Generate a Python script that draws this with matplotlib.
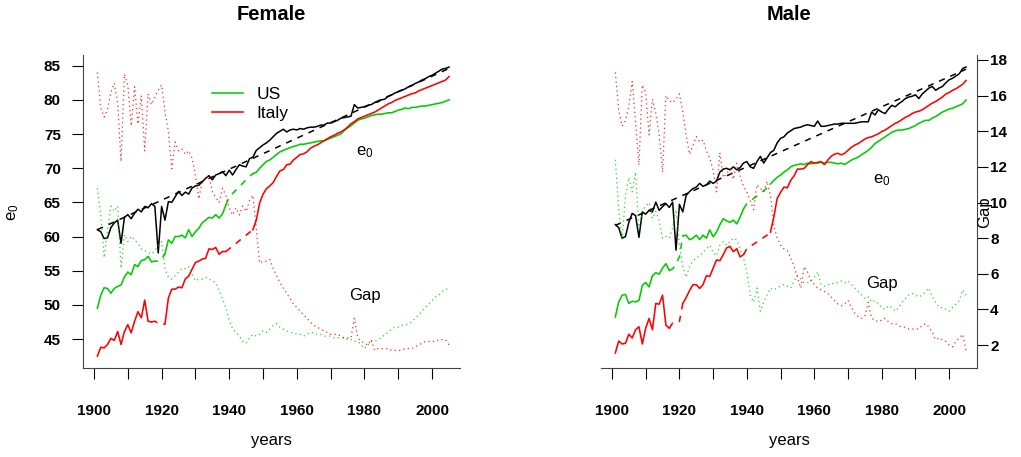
import numpy as np
import matplotlib.pyplot as plt

plt.rcParams['font.family'] = ['Liberation Sans', 'DejaVu Sans']

years = np.arange(1901, 2006)
trend_years = [1901, 2005]
# years drawn dashed in the country e0 lines
dashed_spans = [(1917, 1921), (1939, 1947)]

# ---------------- Female ----------------
f_best = [61.0, 60.7, 59.7, 59.8, 61.3, 62.0, 62.4, 59.0, 62.8, 63.2,
          62.6, 63.4, 64.0, 63.6, 64.4, 64.2, 64.8, 64.4, 57.6, 64.4,
          62.4, 65.1, 65.0, 65.8, 66.6, 66.0, 66.5, 66.2, 67.1, 67.4,
          67.5, 68.0, 68.5, 68.9, 68.3, 69.0, 69.2, 69.5, 68.9, 69.7,
          69.0, 69.8, 70.5, 70.3, 70.2, 71.4, 71.6, 72.6, 73.0, 73.4,
          73.7, 74.1, 74.6, 75.1, 75.4, 75.7, 75.3, 75.6, 75.7, 75.6,
          75.8, 75.7, 75.9, 76.0, 76.0, 76.1, 76.3, 76.3, 76.6, 76.6,
          76.8, 77.0, 77.3, 77.4, 77.5, 77.6, 79.3, 78.8, 78.9, 79.0,
          79.2, 79.3, 79.6, 79.7, 80.0, 80.1, 80.5, 80.7, 81.0, 81.2,
          81.4, 81.6, 81.9, 82.1, 82.4, 82.6, 82.9, 83.1, 83.4, 83.6,
          83.9, 84.2, 84.5, 84.6, 84.8]
f_trend = [61.0, 84.6]
f_us = [49.5, 51.4, 52.5, 52.4, 51.7, 52.4, 52.7, 52.9, 54.1, 54.8,
        54.4, 55.9, 55.6, 56.5, 56.6, 57.1, 56.3, 56.4, 56.4, 56.6,
        57.5, 59.5, 59.0, 60.0, 60.0, 60.2, 59.8, 61.0, 60.0, 60.7,
        61.2, 62.0, 62.4, 62.8, 62.7, 63.2, 62.7, 63.3, 64.6, 65.8,
        66.3, 66.8, 67.3, 67.8, 68.3, 68.8, 69.2, 69.4, 70.0, 70.5,
        71.0, 71.2, 71.6, 72.0, 72.4, 72.6, 72.8, 73.0, 73.2, 73.3,
        73.5, 73.5, 73.6, 73.7, 73.8, 73.9, 74.0, 74.0, 74.2, 74.4,
        74.6, 74.8, 75.0, 75.5, 75.9, 76.2, 76.6, 77.0, 77.2, 77.3,
        77.5, 77.7, 77.8, 77.9, 77.9, 78.0, 78.1, 78.1, 78.3, 78.5,
        78.6, 78.8, 78.7, 78.9, 78.9, 79.0, 79.1, 79.1, 79.2, 79.3,
        79.4, 79.5, 79.6, 79.8, 80.0]
f_italy = [42.5, 43.8, 43.7, 44.2, 45.1, 44.8, 46.1, 44.2, 46.1, 47.1,
           45.9, 47.6, 49.0, 48.1, 50.7, 47.6, 47.5, 47.6, 47.3, 47.1,
           47.2, 51.0, 52.3, 52.3, 52.6, 52.5, 53.8, 54.2, 55.2, 56.2,
           56.4, 56.7, 56.8, 58.2, 58.1, 58.4, 57.4, 57.8, 57.8, 58.2,
           58.6, 59.0, 59.4, 59.8, 60.2, 60.6, 61.0, 62.4, 64.9, 66.2,
           67.0, 67.4, 67.9, 68.8, 69.6, 69.8, 70.5, 70.6, 71.2, 71.6,
           72.0, 72.1, 72.4, 72.9, 73.2, 73.4, 73.7, 74.0, 74.3, 74.6,
           74.8, 75.1, 75.3, 75.6, 76.0, 76.5, 76.8, 77.2, 77.4, 77.6,
           77.8, 78.0, 78.2, 78.5, 78.8, 79.1, 79.4, 79.6, 79.9, 80.1,
           80.3, 80.5, 80.7, 80.9, 81.0, 81.3, 81.5, 81.7, 81.9, 82.1,
           82.3, 82.5, 82.7, 82.9, 83.4]
f_gap_us = [10.8, 9.3, 6.9, 8.5, 9.8, 9.5, 9.8, 6.3, 8.2, 7.8,
            8.1, 7.9, 7.7, 7.4, 7.3, 7.2, 7.1, 7.3, 7.6, 7.8,
            6.3, 5.8, 5.7, 5.9, 6.1, 6.3, 6.3, 6.4, 6.0, 5.6,
            5.7, 5.7, 5.8, 5.7, 5.6, 5.5, 5.1, 4.6, 4.1, 3.4,
            2.9, 2.7, 2.5, 2.2, 2.1, 2.4, 2.6, 2.5, 2.6, 2.8,
            2.7, 2.9, 3.1, 3.2, 3.0, 2.9, 2.8, 2.7, 2.7, 2.6,
            2.6, 2.5, 2.6, 2.7, 2.7, 2.6, 2.6, 2.5, 2.5, 2.5,
            2.4, 2.4, 2.4, 2.4, 2.3, 2.3, 2.2, 2.2, 2.0, 1.8,
            2.0, 2.2, 2.2, 2.3, 2.4, 2.6, 2.7, 2.9, 3.0, 3.0,
            3.1, 3.1, 3.2, 3.3, 3.5, 3.7, 3.9, 4.1, 4.3, 4.5,
            4.7, 4.8, 5.0, 5.1, 5.2]
f_gap_italy = [17.3, 15.3, 14.8, 15.2, 16.2, 16.7, 15.6, 12.3, 17.2, 16.6,
               14.3, 16.5, 14.4, 16.0, 12.9, 16.1, 15.5, 15.9, 16.3, 16.6,
               15.1, 14.0, 11.9, 13.4, 12.9, 13.0, 12.7, 12.9, 12.5, 11.5,
               10.2, 11.2, 11.4, 11.5, 10.6, 10.3, 10.0, 10.8, 10.4, 9.7,
               9.3, 9.7, 9.3, 9.8, 9.5, 10.1, 10.4, 8.5, 6.6, 6.7,
               6.7, 6.8, 6.3, 5.9, 5.5, 5.2, 4.9, 4.6, 4.3, 4.1,
               3.9, 3.7, 3.5, 3.3, 3.1, 3.0, 2.9, 2.8, 2.7, 2.6,
               2.6, 2.6, 2.5, 2.4, 2.4, 2.4, 3.5, 2.4, 2.2, 2.1,
               2.0, 2.3, 1.7, 1.8, 1.8, 1.8, 1.8, 1.7, 1.7, 1.7,
               1.7, 1.8, 1.8, 1.8, 1.9, 2.0, 2.1, 2.2, 2.2, 2.2,
               2.2, 2.3, 2.3, 2.3, 2.0]

# ---------------- Male ----------------
m_best = [57.5, 57.1, 55.7, 55.9, 57.8, 59.0, 58.7, 55.8, 59.2, 58.9,
          59.4, 59.2, 60.5, 59.4, 59.9, 60.3, 59.8, 60.5, 54.1, 60.2,
          59.2, 61.4, 61.9, 62.3, 62.5, 63.0, 62.6, 62.8, 63.3, 63.0,
          63.3, 64.5, 64.9, 65.0, 64.8, 65.2, 64.8, 65.1, 65.7, 65.9,
          65.2, 65.0, 65.9, 66.6, 65.7, 66.4, 67.1, 67.4, 68.4, 69.0,
          69.2, 69.7, 70.0, 70.3, 70.4, 70.5, 70.7, 70.8, 70.7, 70.6,
          71.3, 70.6, 70.6, 70.7, 70.8, 70.9, 70.9, 71.0, 71.0, 71.0,
          71.0, 71.0, 71.1, 71.2, 71.2, 71.2, 72.5, 72.1, 72.8, 72.5,
          72.3, 72.9, 73.4, 73.2, 73.6, 73.9, 74.3, 74.5, 74.6, 74.8,
          74.3, 74.9, 75.3, 75.7, 75.9, 75.4, 75.7, 75.9, 76.4, 76.8,
          77.0, 77.3, 77.6, 78.3, 78.5]
m_trend = [57.4, 78.2]
m_us = [45.2, 47.2, 48.1, 48.2, 47.0, 47.3, 47.2, 47.4, 49.4, 49.8,
        49.2, 50.7, 51.1, 50.9, 51.7, 52.3, 51.4, 51.6, 52.3, 53.2,
        56.0, 56.1, 55.5, 55.7, 56.1, 55.5, 56.1, 55.7, 56.8, 55.9,
        56.5, 57.5, 58.3, 58.0, 57.8, 58.1, 57.6, 58.5, 59.6, 60.3,
        60.6, 61.0, 61.3, 61.7, 62.0, 62.4, 62.9, 63.4, 63.8, 64.1,
        64.5, 64.8, 65.2, 65.4, 65.5, 65.6, 65.5, 65.7, 65.6, 65.7,
        65.7, 65.8, 65.7, 65.8, 65.8, 65.7, 65.6, 65.7, 65.5, 65.8,
        66.1, 66.3, 66.5, 66.8, 67.1, 67.4, 67.8, 68.3, 68.6, 68.9,
        69.2, 69.5, 69.8, 70.0, 70.1, 70.1, 70.2, 70.3, 70.5, 70.7,
        71.0, 71.2, 71.4, 71.4, 71.7, 71.9, 72.2, 72.5, 72.7, 72.9,
        73.0, 73.2, 73.4, 73.6, 74.1]
m_italy = [40.4, 42.0, 41.6, 41.7, 42.9, 42.4, 43.5, 43.9, 41.6, 43.7,
           45.0, 43.5, 47.0, 46.9, 48.1, 44.1, 43.7, 44.4, 44.4, 44.6,
           47.0, 47.8, 48.7, 49.5, 49.5, 49.0, 49.5, 50.7, 50.6, 51.7,
           52.8, 52.7, 53.5, 54.4, 54.6, 53.9, 54.3, 53.2, 53.5, 54.3,
           54.6, 54.9, 55.2, 55.5, 55.8, 56.1, 56.5, 58.5, 61.0, 61.8,
           62.5, 62.4, 63.4, 64.0, 64.9, 64.9, 65.0, 65.5, 65.9, 65.7,
           65.8, 65.9, 65.5, 66.1, 66.6, 66.9, 67.0, 66.8, 67.0, 67.4,
           67.8, 68.1, 68.3, 68.6, 68.9, 69.1, 69.2, 69.4, 69.6, 69.9,
           70.1, 70.4, 70.7, 71.0, 71.2, 71.5, 71.8, 72.0, 72.3, 72.5,
           72.6, 72.8, 73.1, 73.4, 73.7, 73.9, 74.2, 74.5, 74.9, 75.1,
           75.4, 75.6, 75.9, 76.2, 76.7]
m_gap_us = [12.4, 9.6, 7.9, 10.4, 11.4, 10.6, 11.7, 8.5, 9.5, 9.8,
            10.0, 9.1, 9.5, 9.0, 8.0, 8.1, 8.0, 8.6, 9.6, 7.6,
            6.4, 5.8, 6.4, 6.7, 6.9, 7.0, 7.2, 7.4, 7.6, 7.2,
            7.0, 7.6, 7.8, 7.6, 7.8, 8.0, 7.9, 7.4, 6.9, 6.1,
            4.8, 4.4, 5.2, 3.9, 4.4, 4.8, 5.2, 5.1, 5.2, 5.3,
            5.4, 5.3, 5.2, 5.6, 5.9, 5.7, 5.5, 5.5, 5.6, 5.8,
            6.1, 5.4, 5.3, 5.4, 5.4, 5.5, 5.5, 5.6, 5.5, 5.6,
            5.4, 5.2, 5.0, 4.8, 4.6, 4.7, 4.4, 4.5, 4.3, 4.1,
            4.0, 4.2, 4.1, 3.9, 4.1, 4.4, 4.6, 4.8, 4.9, 4.8,
            4.7, 4.8, 5.0, 5.2, 4.7, 4.4, 4.1, 4.1, 4.0, 3.9,
            4.1, 4.3, 4.5, 5.1, 4.8]
m_gap_italy = [17.3, 15.2, 14.3, 14.6, 15.4, 16.8, 14.5, 12.1, 16.6, 16.2,
               13.8, 15.8, 15.0, 13.8, 11.7, 16.0, 15.7, 15.6, 15.8, 16.1,
               15.1, 13.8, 12.7, 13.2, 13.7, 13.4, 13.5, 12.9, 12.5, 11.8,
               10.6, 12.8, 11.4, 11.6, 11.9, 11.3, 12.2, 11.5, 10.9, 10.6,
               10.1, 9.6, 11.0, 10.8, 10.6, 11.2, 10.4, 8.7, 8.0, 7.6,
               7.4, 7.3, 6.9, 6.4, 5.8, 5.2, 6.4, 6.1, 5.6, 5.4,
               5.2, 5.1, 5.0, 4.9, 4.7, 4.5, 4.3, 4.2, 4.3, 4.5,
               4.1, 3.8, 3.6, 3.5, 3.6, 4.4, 3.5, 3.4, 3.3, 3.4,
               3.5, 3.3, 3.2, 3.2, 3.1, 3.0, 3.0, 2.9, 2.9, 2.9,
               2.9, 3.1, 3.2, 3.0, 2.7, 2.3, 2.4, 2.3, 2.2, 2.0,
               1.9, 2.2, 2.4, 2.6, 1.7]

GREEN = '#00CD00'
RED = '#FF0000'
SPINE = '#444444'
gap_lim = (0.71, 18.28)


def e0_line(ax, vals, color, label=None):
    y = np.asarray(vals, dtype=float)
    solid = y.copy()
    for a, b in dashed_spans:
        solid[(years > a) & (years < b)] = np.nan
    ax.plot(years, solid, color=color, lw=1.15, label=label)
    for a, b in dashed_spans:
        m = (years >= a) & (years <= b)
        ax.plot(years[m], y[m], color=color, lw=1.15, ls=(0, (4, 4)))


def panel(ax, best, trend, us, italy, gap_us, gap_italy, e0_lim):
    ax.plot(years, best, color='black', lw=1.1)
    ax.plot(trend_years, trend, color='black', lw=1.1, ls=(0, (4, 4)))
    e0_line(ax, us, GREEN, 'US')
    e0_line(ax, italy, RED, 'Italy')
    ax.set_xlim(1896.75, 2008.25)
    ax.set_ylim(*e0_lim)
    ticks = np.arange(1900, 2001, 10)
    ax.set_xticks(ticks)
    ax.set_xticklabels([str(t) if t % 20 == 0 else '' for t in ticks],
                       fontweight='bold', fontsize=11)
    ax.tick_params(axis='x', length=8, width=0.8, pad=18, direction='out')
    for s in ['top', 'right']:
        ax.spines[s].set_visible(False)
    for s in ['left', 'bottom']:
        ax.spines[s].set_color(SPINE)

    gx = ax.twinx()
    gx.plot(years, gap_us, color=GREEN, lw=0.9, ls=(0, (1, 2.6)), alpha=0.85)
    gx.plot(years, gap_italy, color=RED, lw=0.9, ls=(0, (1, 2.6)), alpha=0.85)
    gx.set_ylim(*gap_lim)
    for s in ['top', 'left', 'bottom']:
        gx.spines[s].set_visible(False)
    gx.spines['right'].set_color(SPINE)
    return gx


fig = plt.figure(figsize=(10.21, 4.57), dpi=100)
ax_f = fig.add_axes([83 / 1021, 89 / 457, 377 / 1021, 313 / 457])
ax_m = fig.add_axes([601 / 1021, 89 / 457, 376 / 1021, 313 / 457])

# Female panel
gx_f = panel(ax_f, f_best, f_trend, f_us, f_italy, f_gap_us, f_gap_italy,
             (40.76, 86.56))
ax_f.set_yticks(np.arange(45, 86, 5))
ax_f.set_yticklabels([str(v) for v in range(45, 86, 5)],
                     fontweight='bold', fontsize=11)
ax_f.tick_params(axis='y', length=8, width=0.8, pad=8)
gx_f.set_yticks([])
gx_f.spines['right'].set_visible(False)
ax_f.legend(loc='upper left', bbox_to_anchor=(0.341, 0.897), frameon=False,
            fontsize=12.5, handlelength=1.82, handletextpad=0.75,
            labelspacing=0.2, borderpad=0, borderaxespad=0)
ax_f.text(1980, 72.4, r'$\mathregular{e_0}$', fontsize=12,
          ha='center', va='center')
ax_f.text(1980, 51.3, 'Gap', fontsize=12, ha='center', va='center')

# Male panel
gx_m = panel(ax_m, m_best, m_trend, m_us, m_italy, m_gap_us, m_gap_italy,
             (38.4, 80.1))
ax_m.spines['left'].set_visible(False)
ax_m.tick_params(axis='y', left=False, labelleft=False)
gx_m.set_yticks(np.arange(2, 19, 2))
gx_m.set_yticklabels([str(v) for v in range(2, 19, 2)],
                     fontweight='bold', fontsize=11)
gx_m.tick_params(axis='y', length=8, width=0.8, pad=1.5)
ax_m.text(1980, 63.45, r'$\mathregular{e_0}$', fontsize=12,
          ha='center', va='center')
ax_m.text(1980, 49.6, 'Gap', fontsize=12, ha='center', va='center')

# titles and axis labels
fig.text(271.5 / 1021, 1 - 15 / 457, 'Female', ha='center', va='center',
         fontsize=14.5, fontweight='bold')
fig.text(789 / 1021, 1 - 15 / 457, 'Male', ha='center', va='center',
         fontsize=14.5, fontweight='bold')
fig.text(271.5 / 1021, 1 - 441 / 457, 'years', ha='center', va='center',
         fontsize=12)
fig.text(789 / 1021, 1 - 441 / 457, 'years', ha='center', va='center',
         fontsize=12)
fig.text(13 / 1021, 1 - 212 / 457, r'$\mathregular{e_0}$', rotation=90,
         ha='center', va='center', fontsize=12)
fig.text(985 / 1021, 1 - 212 / 457, 'Gap', rotation=90,
         ha='center', va='center', fontsize=12)

fig.savefig('out.png', dpi=100)
